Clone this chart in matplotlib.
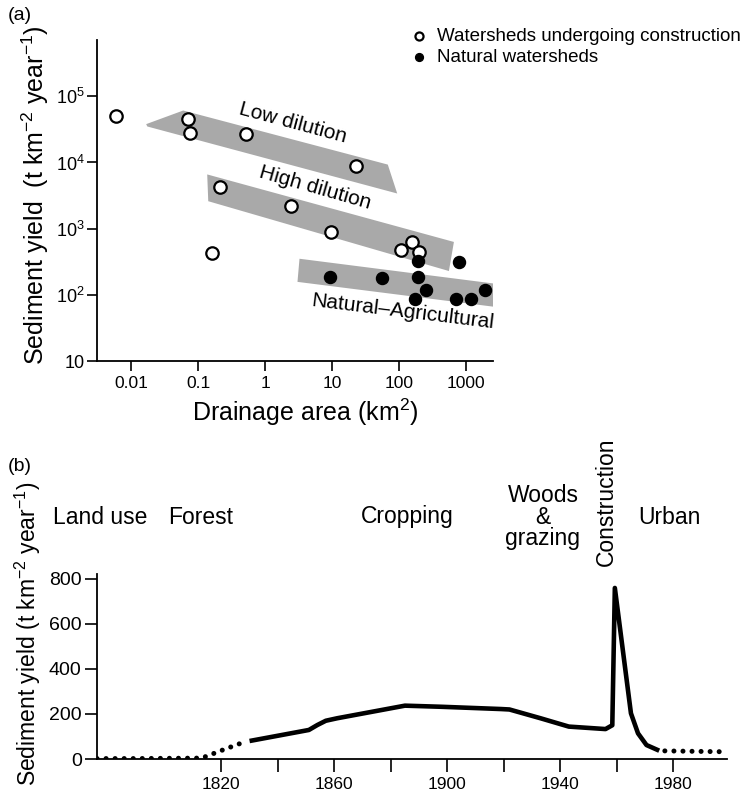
import numpy as np
import matplotlib
matplotlib.use('Agg')
import matplotlib.pyplot as plt
from matplotlib.patches import Polygon

plt.rcParams['font.family'] = ['Liberation Sans', 'DejaVu Sans']
plt.rcParams['mathtext.default'] = 'regular'

# (a) drainage area vs sediment yield
constr_area = [0.006, 0.071, 0.076, 0.52, 23, 0.21, 2.4, 9.5, 0.16, 107, 156, 200]
constr_yield = [5.0e4, 4.6e4, 2.8e4, 2.7e4, 9.0e3, 4.3e3, 2.2e3, 900, 430, 480, 620, 450]
natural_area = [190, 790, 9.3, 56, 190, 250, 1900, 173, 710, 1180]
natural_yield = [325, 310, 185, 178, 185, 120, 120, 86, 86, 86]

# shaded bands (corner points, area / yield)
low_band_x = [0.0168, 0.060, 68, 94, 0.0175]
low_band_y = [3.8e4, 6.1e4, 9.3e3, 3.4e3, 3.5e4]
high_band_x = [0.137, 660, 556, 0.142]
high_band_y = [6.6e3, 630, 229, 2.6e3]
nat_band_x = [3.27, 2630, 2630, 3.05]
nat_band_y = [351, 148, 66, 157]

# (b) sediment yield history
early_year = [1776, 1790, 1800, 1813, 1816, 1819, 1822, 1826, 1829]
early_val = [2, 2, 3, 4, 18, 33, 47, 66, 77]
main_year = [1830, 1851, 1854, 1857, 1861, 1885, 1898, 1919, 1922, 1933, 1943,
             1956, 1958.4, 1959.3, 1965, 1967.5, 1970.5, 1975]
main_val = [80, 129, 151, 170, 181, 237, 232, 222, 220, 181, 144,
            133, 150, 760, 203, 114, 62, 37]
late_year = [1977, 1999]
late_val = [36, 32]

landuse = ['Land use', 'Forest', 'Cropping', 'Woods\n&\ngrazing', 'Urban']

fig = plt.figure(figsize=(7.51, 7.93), dpi=100)
W, H = 751, 793

# ---- panel a
ax1 = fig.add_axes([97 / W, 1 - 361 / H, 396 / W, 321 / H])
ax1.set_xscale('log')
ax1.set_yscale('log')
ax1.set_xlim(0.0031, 2530)
ax1.set_ylim(10, 7.1e5)

band_col = '#a9a9a9'
for bx, by in [(low_band_x, low_band_y), (high_band_x, high_band_y), (nat_band_x, nat_band_y)]:
    ax1.add_patch(Polygon(np.column_stack([bx, by]), closed=True,
                          facecolor=band_col, edgecolor='none', zorder=1))

ax1.scatter(constr_area, constr_yield, s=80, facecolor='white', edgecolor='black',
            linewidth=1.6, zorder=3, label='Watersheds undergoing construction')
ax1.scatter(natural_area, natural_yield, s=75, facecolor='black', edgecolor='black',
            linewidth=1, zorder=3, label='Natural watersheds')

ax1.text(2.6, 3.9e4, 'Low dilution', rotation=-15, fontsize=15,
         ha='center', va='center', rotation_mode='anchor')
ax1.text(5.5, 4.1e3, 'High dilution', rotation=-16, fontsize=15,
         ha='center', va='center', rotation_mode='anchor')
ax1.text(115, 55, 'Natural\u2013Agricultural', rotation=-7, fontsize=15,
         ha='center', va='center', rotation_mode='anchor')

ax1.set_xticks([0.01, 0.1, 1, 10, 100, 1000])
ax1.set_xticklabels(['0.01', '0.1', '1', '10', '100', '1000'])
ax1.set_yticks([10, 1e2, 1e3, 1e4, 1e5])
ax1.set_yticklabels(['10', '10$^2$', '10$^3$', '10$^4$', '10$^5$'])
ax1.minorticks_off()
ax1.tick_params(axis='x', labelsize=12.5, length=7, width=1.2, pad=4)
ax1.tick_params(axis='y', labelsize=13, length=7, width=1.2, pad=2)
for s in ['top', 'right']:
    ax1.spines[s].set_visible(False)
for s in ['left', 'bottom']:
    ax1.spines[s].set_linewidth(1.3)

fig.text(305 / W, 1 - 412 / H, 'Drainage area (km$^2$)', fontsize=18,
         ha='center', va='center')
fig.text(35 / W, 1 - 195 / H, 'Sediment yield  (t km$^{-2}$ year$^{-1}$)',
         fontsize=18, rotation=90, ha='center', va='center')
fig.text(8 / W, 1 - 15 / H, '(a)', fontsize=14, ha='left', va='center')

fig.legend(loc='upper left', bbox_to_anchor=(411 / W, 1 - 28 / H), frameon=False,
           fontsize=13.5, markerscale=0.65, handlelength=0.8, handletextpad=0.6,
           borderpad=0, borderaxespad=0, labelspacing=0.2)

# ---- panel b
ax2 = fig.add_axes([97 / W, 1 - 759 / H, 630 / W, 185 / H])
ax2.set_xlim(1776, 1999)
ax2.set_ylim(0, 822)

dots = dict(color='black', linewidth=3.6, linestyle=(0, (0.01, 1.8)),
            dash_capstyle='round', solid_capstyle='round')
ax2.plot(early_year, early_val, **dots)
ax2.plot(late_year, late_val, **dots)
ax2.plot(main_year, main_val, color='black', linewidth=3.3,
         solid_capstyle='butt', solid_joinstyle='round')

ax2.set_yticks([0, 200, 400, 600, 800])
ax2.set_xticks([1820, 1860, 1900, 1940, 1980])
ax2.set_xticks([1840, 1880, 1920, 1960], minor=True)
ax2.tick_params(axis='x', which='both', labelsize=12.5, length=9, width=1.2, pad=4)
ax2.tick_params(axis='y', labelsize=14, length=9, width=1.2, pad=2)
for s in ['top', 'right']:
    ax2.spines[s].set_visible(False)
for s in ['left', 'bottom']:
    ax2.spines[s].set_linewidth(1.3)

fig.text(28 / W, 1 - 634 / H, 'Sediment yield (t km$^{-2}$ year$^{-1}$)',
         fontsize=16.5, rotation=90, ha='center', va='center')
fig.text(8 / W, 1 - 467 / H, '(b)', fontsize=14, ha='left', va='center')

lu_x = [53, 168, 407, 543, 669]
lu_ha = ['left', 'left', 'center', 'center', 'center']
for lab, x, ha in zip(landuse, lu_x, lu_ha):
    fig.text(x / W, 1 - 517 / H, lab, fontsize=16.5, ha=ha, va='center',
             linespacing=0.9)
fig.text(606 / W, 1 - 502 / H, 'Construction', fontsize=16.5, rotation=90,
         ha='center', va='center')

fig.savefig('out.png', dpi=100)
